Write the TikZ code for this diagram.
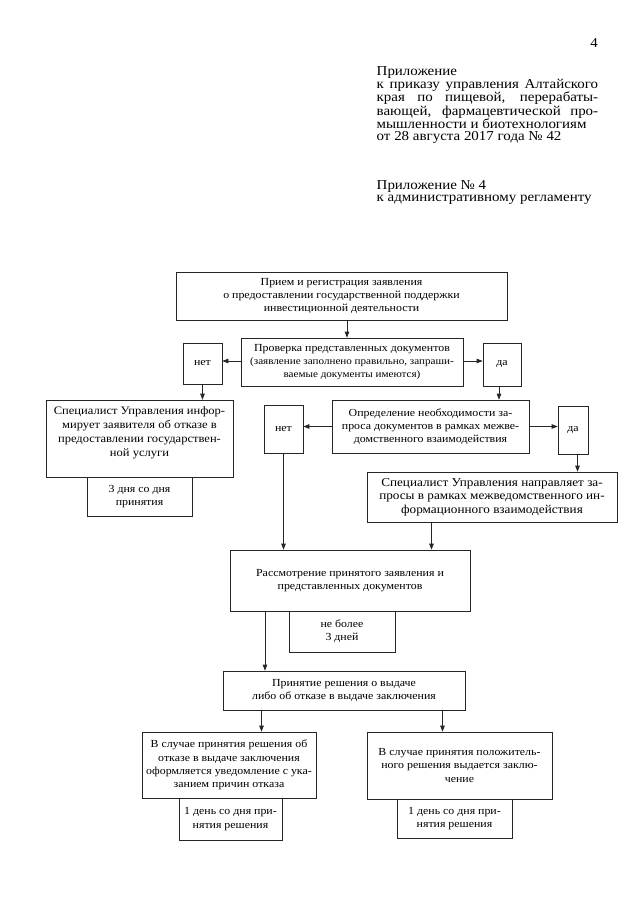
\documentclass[tikz,border=0pt]{standalone}
\usepackage{fontspec}
\setmainfont{Liberation Serif}
\newfontfamily\wideserif{Liberation Serif}[FakeStretch=1.1]
\usetikzlibrary{arrows.meta}
\begin{document}
\begin{tikzpicture}[x=1pt,y=-1pt,
  box/.style={draw=black!85, line width=0.65pt, inner sep=0pt, align=center,
    font=\wideserif\fontsize{10.8}{13.3}\selectfont},
  conn/.style={draw=black!85, line width=0.65pt},
  arr/.style={conn, -{Triangle[length=6pt,width=4.5pt]}},
  hdr/.style={anchor=north west, inner sep=0pt, align=left,
    font=\wideserif\fontsize{13.6}{12}\selectfont}]
\useasboundingbox (0,0) rectangle (640,905);
\fill[white] (0,0) rectangle (640,905);

% header
\node[anchor=base east, inner sep=0pt, font=\wideserif\fontsize{13.6}{12}\selectfont] (pg) at (598,47) {4};
\node[hdr] (h1) at (376.5,66) {Приложение\\
\makebox[221.5pt][s]{к приказу управления Алтайского}\\
\makebox[221.5pt][s]{края по пищевой, перерабаты-}\\
\makebox[221.5pt][s]{вающей, фармацевтической про-}\\
мышленности и биотехнологиям\\
от 28 августа 2017 года № 42};
\node[hdr] (h2) at (376.5,180) {Приложение № 4\\к административному регламенту};

% boxes: center, width, height
\node[box, minimum width=331pt, minimum height=48pt] (A) at (341.5,296) {Прием и регистрация заявления\\о предоставлении государственной поддержки\\инвестиционной деятельности};
\node[box, minimum width=222pt, minimum height=48pt] (B) at (352,362) {Проверка представленных документов\\{\fontsize{10.1}{12.3}\selectfont(заявление заполнено правильно, запраши-}\\{\fontsize{10.1}{12.3}\selectfont ваемые документы имеются)}};
\node[box, minimum width=39pt, minimum height=41pt] (N1) at (202.5,363.5) {нет};
\node[box, minimum width=38pt, minimum height=43pt] (D1) at (502,364.5) {да};
\node[box, minimum width=187pt, minimum height=77pt, font=\wideserif\fontsize{11.4}{14}\selectfont] (S1) at (139.5,438.5) {Специалист Управления инфор-\\мирует заявителя об отказе в\\предоставлении государствен-\\ной услуги\\};
\node[box, minimum width=105pt, minimum height=39pt] (S1t) at (139.5,496.5) {3 дня со дня\\принятия};
\node[box, minimum width=197pt, minimum height=53pt] (O) at (430.5,426.5) {Определение необходимости за-\\проса документов в рамках межве-\\домственного взаимодействия};
\node[box, minimum width=39pt, minimum height=48pt] (N2) at (283.5,429) {нет};
\node[box, minimum width=30pt, minimum height=48pt] (D2) at (573,430) {да};
\node[box, minimum width=250pt, minimum height=50pt, font=\wideserif\fontsize{12}{13.3}\selectfont] (P) at (492,497) {Специалист Управления направляет за-\\просы в рамках межведомственного ин-\\формационного взаимодействия};
\node[box, minimum width=240pt, minimum height=61pt] (R) at (350,580.5) {Рассмотрение принятого заявления и\\представленных документов};
\node[box, minimum width=106pt, minimum height=41pt] (R2) at (342,631.5) {не более\\3 дней};
\node[box, minimum width=242pt, minimum height=39pt] (T) at (344,690.5) {Принятие решения о выдаче\\либо об отказе в выдаче заключения};
\node[box, minimum width=174pt, minimum height=66pt] (F) at (229,765) {В случае принятия решения об\\отказе в выдаче заключения\\оформляется уведомление с ука-\\занием причин отказа};
\node[box, minimum width=103pt, minimum height=42pt] (F2) at (230.5,819) {1 день со дня при-\\нятия решения};
\node[box, minimum width=185pt, minimum height=67pt] (G) at (459.5,765.5) {В случае принятия положитель-\\ного решения выдается заклю-\\чение};
\node[box, minimum width=115pt, minimum height=39pt] (G2) at (454.5,818.5) {1 день со дня при-\\нятия решения};

% connectors
\draw[arr] ([xshift=5.5pt]A.south) -- ([xshift=5.5pt]A.south |- B.north);
\draw[arr] ([yshift=1pt]B.west) -- ([yshift=1pt]B.west -| N1.east);
\draw[arr] ([yshift=1pt]B.east) -- ([yshift=1pt]B.east -| D1.west);
\draw[arr] (N1.south) -- (N1.south |- S1.north);
\draw[arr] ([xshift=-3pt]D1.south) -- ([xshift=-3pt]D1.south |- O.north);
\draw[arr] (O.west) -- (O.west -| N2.east);
\draw[arr] (O.east) -- (O.east -| D2.west);
\draw[arr] (N2.south) -- (N2.south |- R.north);
\draw[arr] ([xshift=4.5pt]D2.south) -- ([xshift=4.5pt]D2.south |- P.north);
\draw[arr] ([xshift=-60.5pt]P.south) -- ([xshift=-60.5pt]P.south |- R.north);
\draw[arr] ([xshift=-85pt]R.south) -- ([xshift=-85pt]R.south |- T.north);
\draw[arr] ([xshift=-82.5pt]T.south) -- ([xshift=-82.5pt]T.south |- F.north);
\draw[arr] ([xshift=98.5pt]T.south) -- ([xshift=98.5pt]T.south |- G.north);
\end{tikzpicture}
\end{document}
